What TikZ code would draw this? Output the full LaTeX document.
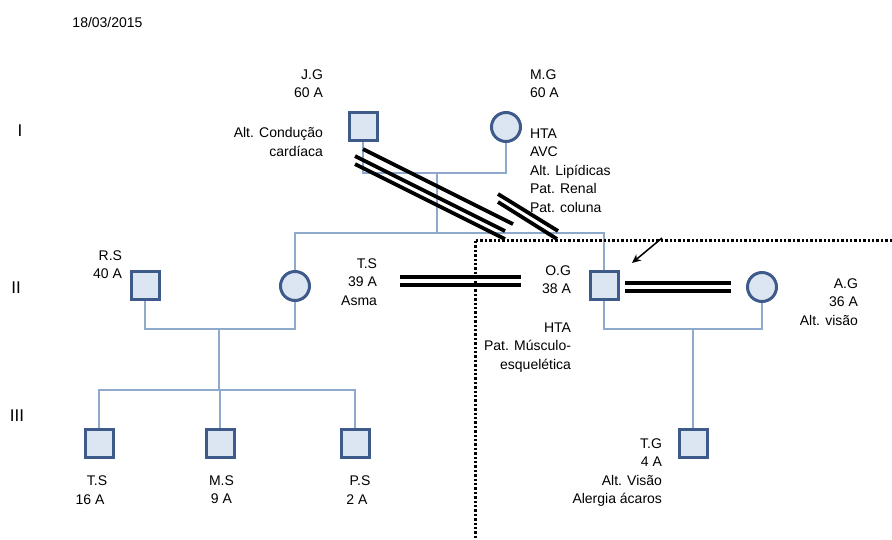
\documentclass[tikz,border=0pt]{standalone}
\usepackage{fontspec}
\setmainfont{Liberation Sans}
\usetikzlibrary{arrows.meta}
\definecolor{ln}{HTML}{8EA9CC}
\definecolor{bd}{HTML}{3D5A8A}
\definecolor{fl}{HTML}{DCE5F2}
\newcommand{\fs}{\fontsize{14}{18.5}\selectfont}
\newcommand{\rtab}[1]{\begin{tabular}[t]{@{}r@{}}#1\end{tabular}}
\newcommand{\ltab}[1]{\begin{tabular}[t]{@{}l@{}}#1\end{tabular}}
\newcommand{\ctab}[1]{\begin{tabular}[t]{@{}c@{}}#1\end{tabular}}
\tikzset{
  male/.style={draw=bd, fill=fl, line width=3pt, minimum size=28pt, inner sep=0, rectangle},
  female/.style={draw=bd, fill=fl, line width=3pt, minimum size=29pt, inner sep=0, circle},
  rel/.style={draw=ln, line width=1.6pt},
  bar/.style={draw=black, line width=3.8pt},
  dotline/.style={draw=black, line width=3pt, dash pattern=on 2.4pt off 2pt},
  lbl/.style={inner sep=0, outer sep=0, font=\fs, text=black},
  gen/.style={inner sep=0, outer sep=0, font=\fontsize{17}{20}\selectfont, text=black},
}
\begin{document}
\begin{tikzpicture}[x=1pt,y=-1pt]
\useasboundingbox (0,0) rectangle (892,539);
% individuals
\node[male] (jg) at (363,126) {};
\node[female] (mg) at (506,127) {};
\node[female] (ts) at (295,286) {};
\node[male] (rs) at (145,285) {};
\node[male] (og) at (604,285) {};
\node[female] (ag) at (762,287) {};
\node[male] (c1) at (99,443) {};
\node[male] (c2) at (220,443) {};
\node[male] (c3) at (355,443) {};
\node[male] (tg) at (693,443) {};
% junction coordinates
\coordinate (m1) at (437,173);
\coordinate (sib) at (437,233);
\coordinate (m2) at (219,329);
\coordinate (sib2) at (219,390);
\coordinate (m3) at (693,329);
% relationship lines
\draw[rel] (jg.south) -- (jg.south |- m1) -- (mg.south |- m1) -- (mg.south);
\draw[rel] (m1) -- (sib);
\draw[rel] (ts.north) -- (ts.north |- sib) -- (og.north |- sib) -- (og.north);
\draw[rel] (rs.south) -- (rs.south |- m2) -- (ts.south |- m2) -- (ts.south);
\draw[rel] (m2) -- (sib2);
\draw[rel] (c1.north) -- (c1.north |- sib2) -- (c3.north |- sib2) -- (c3.north);
\draw[rel] (c2.north) -- (c2.north |- sib2);
\draw[rel] (og.south) -- (og.south |- m3) -- (ag.south |- m3) -- (ag.south);
\draw[rel] (m3) -- (tg.north);
% black bars
\draw[bar] (363,149) -- (513,224);
\draw[bar] (355,156) -- (505,231);
\draw[bar] (355,164) -- (505,239);
\draw[bar] (498,194) -- (558,231);
\draw[bar] (498,202) -- (557,239);
\draw[bar] (400,277) -- (521,277);
\draw[bar] (400,285) -- (521,285);
\draw[bar] (625,283) -- (731,283);
\draw[bar] (625,291) -- (731,291);
% dotted boundary
\coordinate (dc) at (475,240);
\coordinate (dr) at (892,240);
\coordinate (db) at (475,539);
\draw[dotline] (dr) -- (dc) -- (db);
% arrow
\coordinate (as) at (662,238);
\coordinate (ae) at (632,263);
\draw[black, line width=1.5pt, -{Stealth[length=9pt,width=8pt,inset=3pt]}] (as) -- (ae);
% labels
\node[lbl, anchor=base] (date) at (107.5,27) {18/03/2015};
\node[gen, anchor=base] (g1) at (20,136) {I};
\node[gen, anchor=base] (g2) at (16,293) {II};
\node[gen, anchor=base] (g3) at (17,421) {III};
\node[lbl, anchor=base east] (jgl) at (323,79) {\rtab{J.G\\60 A}};
\node[lbl, anchor=base east] (jgd) at (323,137.5) {\rtab{Alt. Condução\\cardíaca}};
\node[lbl, anchor=base west] (mgl) at (530,79) {\ltab{M.G\\60 A}};
\node[lbl, anchor=base west] (mgd) at (530,138) {\ltab{HTA\\AVC\\Alt. Lipídicas\\Pat. Renal\\Pat. coluna}};
\node[lbl, anchor=base east] (rsl) at (122,260) {\rtab{R.S\\40 A}};
\node[lbl, anchor=base east] (tsl) at (377,268) {\rtab{T.S\\39 A\\Asma}};
\node[lbl, anchor=base east] (ogl) at (571,275) {\rtab{O.G\\38 A}};
\node[lbl, anchor=base east] (ogd) at (571,332) {\rtab{HTA\\Pat. Músculo-\\esquelética}};
\node[lbl, anchor=base east] (agl) at (858,288) {\rtab{A.G\\36 A\\Alt. visão}};
\node[lbl, anchor=base east] (tgl) at (662,448) {\rtab{T.G\\4 A\\Alt. Visão\\Alergia ácaros}};
\node[lbl, anchor=base] (c1n) at (97,485) {T.S};
\node[lbl, anchor=base] (c1a) at (90,504) {16 A};
\node[lbl, anchor=base] (c2l) at (221.5,485) {\ctab{M.S\\9 A}};
\node[lbl, anchor=base] (c3n) at (360,485) {P.S};
\node[lbl, anchor=base] (c3a) at (357,504) {2 A};
\end{tikzpicture}
\end{document}
